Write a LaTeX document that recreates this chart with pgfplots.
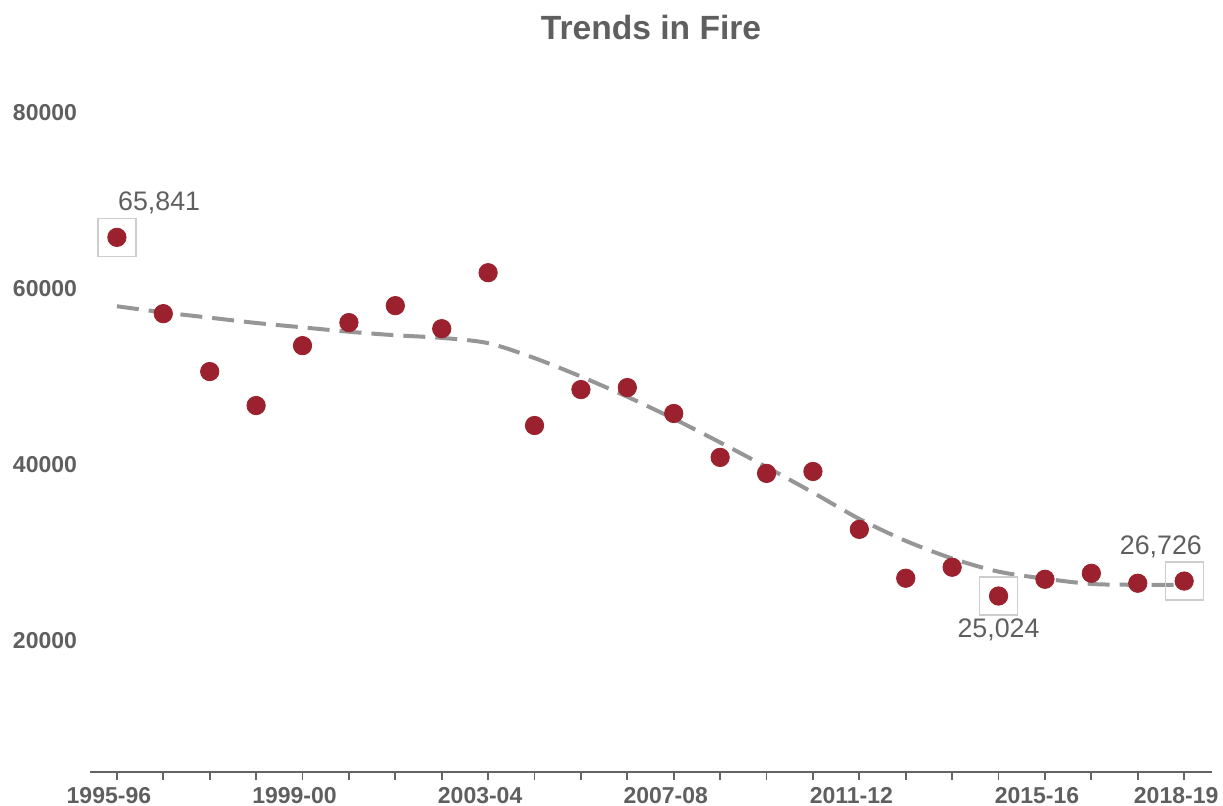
\documentclass[border=0pt]{standalone}
\usepackage{pgfplots}
\pgfplotsset{compat=1.18}
\usepackage{fontspec}
\setmainfont{Liberation Sans}
\definecolor{dotred}{RGB}{155,33,46}
\definecolor{trendgray}{RGB}{150,150,150}
\definecolor{boxgray}{RGB}{205,205,205}
\definecolor{textgray}{RGB}{95,95,95}
\definecolor{axisgray}{RGB}{100,100,100}

\begin{document}
\begin{tikzpicture}
\useasboundingbox (-45pt,-17pt) rectangle (566.5pt,386pt);
\begin{axis}[
  at={(0,0)}, anchor=south west,
  scale only axis, width=561pt, height=351.5pt,
  xmin=-0.58, xmax=23.6, ymin=5000, ymax=85000,
  clip=false,
  axis lines*=left,
  y axis line style={draw=none},
  x axis line style={draw=axisgray, line width=1pt},
  xtick={0,...,23},
  xticklabels={1995-96,,,,1999-00,,,,2003-04,,,,2007-08,,,,2011-12,,,,2015-16,,,2018-19},
  ytick={20000,40000,60000,80000},
  scaled y ticks=false,
  xtick style={draw=axisgray, line width=0.9pt},
  ytick style={draw=none},
  tick align=outside,
  major tick length=4pt,
  ticklabel style={font=\fontsize{11.5}{13}\selectfont\bfseries, text=textgray},
  /pgf/number format/assume math mode=true,
  /pgf/number format/1000 sep={},
  yticklabel style={xshift=1pt},
  xticklabel style={xshift=-4pt},
]
% highlight boxes with labels
\addplot[only marks, mark=square, mark size=9.5pt, mark options={draw=boxgray, line width=0.6pt},
  nodes near coords={65,841},
  nodes near coords style={anchor=south west, xshift=-3pt, yshift=8pt, text=textgray, font=\fontsize{13.4}{15}\selectfont}]
  coordinates {(0,65841)};
\addplot[only marks, mark=square, mark size=9.5pt, mark options={draw=boxgray, line width=0.6pt},
  nodes near coords={25,024},
  nodes near coords style={anchor=north, yshift=-7.5pt, text=textgray, font=\fontsize{13.4}{15}\selectfont}]
  coordinates {(19,25024)};
\addplot[only marks, mark=square, mark size=9.5pt, mark options={draw=boxgray, line width=0.6pt},
  nodes near coords={26,726},
  nodes near coords style={anchor=south east, xshift=12.5pt, yshift=8pt, text=textgray, font=\fontsize{13.4}{15}\selectfont}]
  coordinates {(23,26726)};
% trend line
\addplot[trendgray, line width=2pt, dash pattern=on 11pt off 5pt, smooth, no marks] coordinates {
  (0,58000) (1,57300) (2,56700) (3,56100) (4,55600) (5,55100) (6,54700) (7,54400)
  (8,53800) (9,52100) (10,50000) (11,47700) (12,45200) (13,42500) (14,39700)
  (15,36800) (16,33800) (17,31300) (18,29300) (19,27800) (20,27000) (21,26400)
  (22,26300) (23,26300)
};
% data points
\addplot[only marks, mark=*, mark size=4.6pt, mark options={fill=dotred, draw=dotred}] coordinates {
  (0,65841) (1,57160) (2,50570) (3,46700) (4,53520) (5,56140) (6,58070) (7,55450)
  (8,61820) (9,44430) (10,48520) (11,48750) (12,45800) (13,40800) (14,38980)
  (15,39200) (16,32610) (17,27050) (18,28300) (19,25024) (20,26930) (21,27610)
  (22,26480) (23,26726)
};
\end{axis}
\node[font=\fontsize{16.8}{20}\selectfont\bfseries, text=textgray] at (280.5pt,372pt) {Trends in Fire};
\end{tikzpicture}
\end{document}
